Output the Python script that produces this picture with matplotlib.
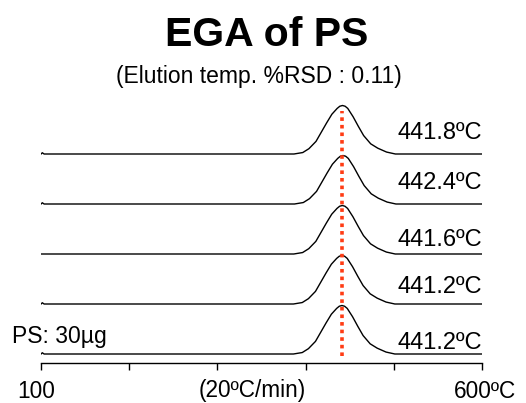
import matplotlib
matplotlib.use("Agg")
import matplotlib.pyplot as plt
import numpy as np

plt.rcParams['font.family'] = ['Liberation Sans', 'DejaVu Sans']

# ---- data ----
peak_temps = [441.8, 442.4, 441.6, 441.2, 441.2]          # top -> bottom
peak_labels = ["441.8ºC", "442.4ºC", "441.6ºC", "441.2ºC", "441.2ºC"]
# shared peak profile: offset from peak (°C), relative intensity
profile_offset = [-55, -45, -38, -30, -24, -18, -12, -6, -3, 0, 3, 6, 12, 18, 24, 32, 40, 50, 60]
profile_value = [0.0, 0.03, 0.11, 0.26, 0.45, 0.64, 0.82, 0.94, 0.985, 1.0, 0.985, 0.94, 0.77, 0.57, 0.38, 0.21, 0.12, 0.04, 0.0]
peak_height = 0.97
start_blip = [True, True, False, True, True]
x_range = [100, 600]
tick_values = [100, 200, 300, 400, 500, 600]

# ---- layout ----
W, H = 526, 403
fig = plt.figure(figsize=(W / 100, H / 100), dpi=100)
ax_left, ax_right = 41, 482
ax_bottom_px, ax_top_px = 363, 100
ax = fig.add_axes([ax_left / W, 1 - ax_bottom_px / H,
                   (ax_right - ax_left) / W, (ax_bottom_px - ax_top_px) / H])
ax.set_xlim(x_range)
ax.set_ylim(-0.18, 5.08)

label_off = [0.30, 0.30, 0.16, 0.22, 0.10]
n = len(peak_temps)
for i, (t, lab) in enumerate(zip(peak_temps, peak_labels)):
    base = n - 1 - i
    xs = [x_range[0]]
    ys = [base]
    if start_blip[i]:
        xs += [101.5, 103.5]
        ys += [base + 0.025, base]
    xs += [t + o for o in profile_offset] + [x_range[1]]
    ys += [base + peak_height * v for v in profile_value] + [base]
    ax.plot(xs, ys, color='black', lw=1.0, solid_joinstyle='round')
    ax.text(x_range[1], base + label_off[i], lab, ha='right', va='baseline',
            fontsize=17, color='black')

# red dotted line at mean elution temperature
mean_t = float(np.mean(peak_temps))
ax.plot([mean_t, mean_t], [-0.04, 4.86], color='#ff3c14', lw=2.6,
        linestyle=(0, (1.0, 1.1)), dash_capstyle='butt')

ax.text(67, 0.22, "PS: 30µg", ha='left', va='baseline', fontsize=16.5, clip_on=False)

for s in ['left', 'top', 'right']:
    ax.spines[s].set_visible(False)
ax.spines['bottom'].set_linewidth(1.0)
ax.set_yticks([])
ax.set_xticks(tick_values)
ax.set_xticklabels([])
ax.tick_params(axis='x', direction='out', length=5, width=1.0)

ax.text(95, -0.74, "100", ha='center', va='center', fontsize=16.3, clip_on=False)
ax.text(340, -0.74, "(20ºC/min)", ha='center', va='center', fontsize=16.3, clip_on=False)
ax.text(603, -0.74, "600ºC", ha='center', va='center', fontsize=16.3, clip_on=False)

fig.text(267 / W, 1 - 46 / H, "EGA of PS", ha='center', va='baseline',
         fontsize=29.5, fontweight='bold')
fig.text(259 / W, 1 - 83 / H, "(Elution temp. %RSD : 0.11)", ha='center',
         va='baseline', fontsize=16.5)

fig.savefig("out.png", dpi=100)
